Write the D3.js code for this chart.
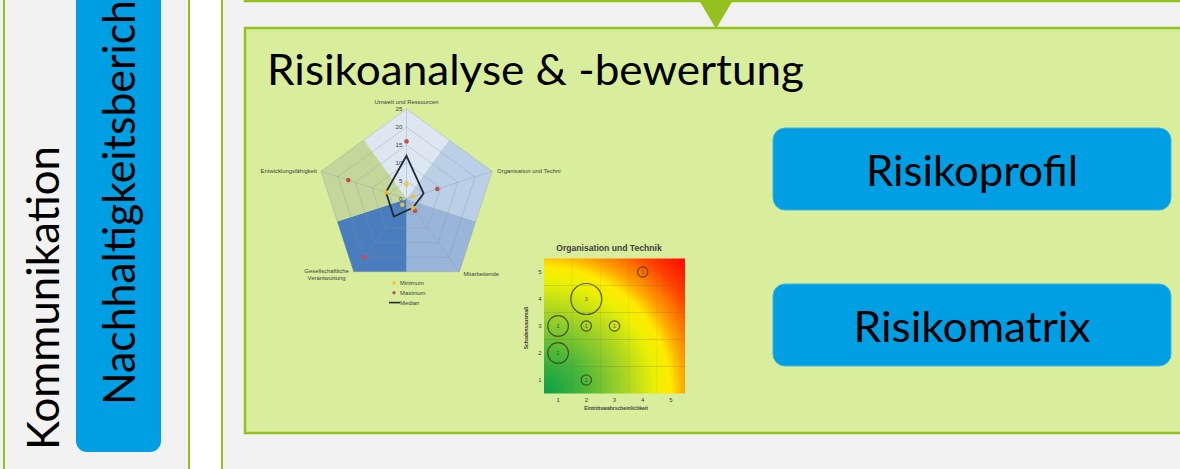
<!DOCTYPE html>
<html lang="de">
<head>
<meta charset="UTF-8" />
<title>Risikoanalyse & -bewertung</title>
<script src="https://d3js.org/d3.v7.min.js"></script>
<style>
  body { margin: 0; background: #f2f2f2; }
  svg { display: block; }
  .big { font-family: Lato, "Open Sans", sans-serif; fill: #000; }
  .small { font-family: "Liberation Sans", Arial, sans-serif; fill: #404040; }
</style>
</head>
<body>
<svg id="chart" width="1180" height="469"></svg>
<script>
  // radar: Risikoprofil
  const axes = ["Umwelt und Ressourcen", "Organisation und Techni", "Mitarbeitende",
                "Gesellschaftliche Verantwortung", "Entwicklungsfähigkeit"];
  const minimum = [4, 2, 3, 2, 6];
  const maximum = [16, 9, 4, 20, 17];
  const median  = [12, 5, 3, 6, 6];
  const radarTicks = [0, 5, 10, 15, 20, 25];
  const legendItems = ["Minimum", "Maximum", "Median"];

  // bubble matrix: Organisation und Technik
  const likelihood = [4, 2, 1, 2, 3, 1, 2];
  const impact     = [5, 4, 3, 3, 3, 2, 1];
  const count      = [1, 3, 2, 1, 1, 2, 1];
  const matrixTicks = [1, 2, 3, 4, 5];

  const green = "#95c11f", blue = "#009fe3", fillGreen = "#d9ee9c";
  const svg = d3.select("#chart");

  // ---- frame / boxes ----
  svg.append("rect").attr("x", 4).attr("y", -20).attr("width", 185).attr("height", 520)
    .attr("fill", "#f2f2f2").attr("stroke", green).attr("stroke-width", 2);
  svg.append("rect").attr("x", 189).attr("y", -20).attr("width", 33).attr("height", 520)
    .attr("fill", "#fff").attr("stroke", green).attr("stroke-width", 2);

  svg.append("rect").attr("x", 76).attr("y", -30).attr("width", 85).attr("height", 482)
    .attr("rx", 11).attr("fill", blue);

  svg.append("text").attr("class", "big")
    .attr("transform", "translate(59,450) rotate(-90)")
    .attr("font-size", 44).attr("textLength", 304).attr("lengthAdjust", "spacingAndGlyphs")
    .text("Kommunikation");
  svg.append("text").attr("class", "big")
    .attr("transform", "translate(135,405) rotate(-90)")
    .attr("font-size", 44).attr("textLength", 420).attr("lengthAdjust", "spacingAndGlyphs")
    .text("Nachhaltigkeitsbericht");

  // box above (only its lower border is visible)
  svg.append("rect").attr("x", 245).attr("y", -60).attr("width", 1000).attr("height", 61)
    .attr("fill", fillGreen).attr("stroke", green).attr("stroke-width", 2.5);

  // main box
  svg.append("rect").attr("x", 245).attr("y", 28).attr("width", 1000).attr("height", 405)
    .attr("fill", fillGreen).attr("stroke", green).attr("stroke-width", 2.5);

  svg.append("path").attr("d", "M699,0 L733,0 L716,29 Z").attr("fill", green);

  svg.append("text").attr("class", "big").attr("x", 267).attr("y", 85)
    .attr("font-size", 42).attr("textLength", 537).attr("lengthAdjust", "spacingAndGlyphs")
    .text("Risikoanalyse & -bewertung");

  // right buttons
  const buttons = [
    {label: "Risikoprofil", y: 128, tl: 212},
    {label: "Risikomatrix", y: 284, tl: 237}
  ];
  buttons.forEach(b => {
    svg.append("rect").attr("x", 773).attr("y", b.y).attr("width", 398).attr("height", 82)
      .attr("rx", 12).attr("fill", blue).attr("stroke", "#3fb2e6").attr("stroke-width", 1);
    svg.append("text").attr("class", "big").attr("x", 972).attr("y", b.y + 58)
      .attr("text-anchor", "middle").attr("font-size", 42)
      .attr("textLength", b.tl).attr("lengthAdjust", "spacingAndGlyphs")
      .text(b.label);
  });

  // ---- radar chart ----
  const cx = 406.5, cy = 199;
  const r = d3.scaleLinear().domain([0, 25]).range([0, 90]);
  const n = axes.length;
  const pt = (i, v) => {
    const a = (i % n) * 2 * Math.PI / n;
    return [cx + r(v) * Math.sin(a), cy - r(v) * Math.cos(a)];
  };
  const mid = (p, q) => [(p[0] + q[0]) / 2, (p[1] + q[1]) / 2];
  const sectorColors = ["#dde7f2", "#bbcfe6", "#99b5d9", "#4a7dbd", "#c3d79b"];

  const radar = svg.append("g");
  axes.forEach((d, i) => {
    const v = pt(i, 25), prev = pt(i + n - 1, 25), next = pt(i + 1, 25);
    radar.append("path")
      .attr("d", d3.line()([[cx, cy], mid(prev, v), v, mid(v, next)]) + "Z")
      .attr("fill", sectorColors[i]);
  });
  radarTicks.filter(t => t > 0).forEach(t => {
    radar.append("path")
      .attr("d", d3.line()(d3.range(n).map(i => pt(i, t))) + "Z")
      .attr("fill", "none").attr("stroke", "#8593a3").attr("stroke-opacity", 0.45)
      .attr("stroke-width", 0.7);
  });
  d3.range(n).forEach(i => {
    radar.append("line").attr("x1", cx).attr("y1", cy)
      .attr("x2", pt(i, 25)[0]).attr("y2", pt(i, 25)[1])
      .attr("stroke", "#8593a3").attr("stroke-opacity", 0.45).attr("stroke-width", 0.7);
  });
  radarTicks.forEach(t => {
    radar.append("text").attr("class", "small").attr("x", cx - 4).attr("y", cy - r(t) + 2)
      .attr("text-anchor", "end").attr("font-size", 6.2).attr("fill", "#595959").text(t);
  });

  // axis labels
  const vt = d3.range(n).map(i => pt(i, 25));
  radar.append("text").attr("class", "small").attr("font-size", 5.9)
    .attr("x", vt[0][0]).attr("y", vt[0][1] - 5).attr("text-anchor", "middle").text(axes[0]);
  radar.append("text").attr("class", "small").attr("font-size", 5.9)
    .attr("x", vt[1][0] + 5).attr("y", vt[1][1] + 2).text(axes[1]);
  radar.append("text").attr("class", "small").attr("font-size", 5.9)
    .attr("x", vt[2][0] + 4).attr("y", vt[2][1] + 4).text(axes[2]);
  const gv = radar.append("text").attr("class", "small").attr("font-size", 5.9)
    .attr("text-anchor", "middle");
  axes[3].split(" ").forEach((w, k) => {
    gv.append("tspan").attr("x", vt[3][0] - 27).attr("y", vt[3][1] + 1 + k * 7.5).text(w);
  });
  radar.append("text").attr("class", "small").attr("font-size", 5.9)
    .attr("x", vt[4][0] - 4).attr("y", vt[4][1] + 2).attr("text-anchor", "end").text(axes[4]);

  // median line
  radar.append("path")
    .attr("d", d3.line()(median.map((v, i) => pt(i, v))) + "Z")
    .attr("fill", "none").attr("stroke", "#1e2a35").attr("stroke-width", 1.8)
    .attr("stroke-linejoin", "miter");
  radar.selectAll(".mx").data(maximum).join("circle")
    .attr("cx", (d, i) => pt(i, d)[0]).attr("cy", (d, i) => pt(i, d)[1])
    .attr("r", 2.3).attr("fill", "#c2504d");
  radar.selectAll(".mn").data(minimum).join("circle")
    .attr("cx", (d, i) => pt(i, d)[0]).attr("cy", (d, i) => pt(i, d)[1])
    .attr("r", 2.3).attr("fill", "#f5c22a").attr("fill-opacity", 0.9);

  // legend
  const lg = radar.append("g").attr("transform", "translate(394,283)");
  legendItems.forEach((d, k) => {
    const y = k * 9.8;
    if (k < 2) {
      lg.append("circle").attr("cx", 0).attr("cy", y).attr("r", 1.7)
        .attr("fill", k === 0 ? "#f5c22a" : "#c2504d");
    } else {
      lg.append("line").attr("x1", -5).attr("x2", 6).attr("y1", y).attr("y2", y)
        .attr("stroke", "#1e2a35").attr("stroke-width", 1.6);
    }
    lg.append("text").attr("class", "small").attr("x", 6).attr("y", y + 2)
      .attr("font-size", 5.9).text(d);
  });

  // ---- risk matrix ----
  const x = d3.scaleLinear().domain([0.5, 5.5]).range([544, 685]);
  const y = d3.scaleLinear().domain([0.5, 5.5]).range([393.5, 258.5]);
  const defs = svg.append("defs");
  const grad = defs.append("radialGradient").attr("id", "heat")
    .attr("gradientUnits", "userSpaceOnUse")
    .attr("cx", x(0.5)).attr("cy", y(0.5)).attr("r", 198);
  [[0, "#0a9f48"], [0.2, "#48b63a"], [0.4, "#a2d226"], [0.56, "#e8f004"], [0.64, "#ffeb00"],
   [0.71, "#ffa600"], [0.85, "#ff4200"], [1, "#ff0000"]].forEach(s => {
    grad.append("stop").attr("offset", s[0]).attr("stop-color", s[1]);
  });
  const m = svg.append("g");
  m.append("rect").attr("x", x(0.5)).attr("y", y(5.5))
    .attr("width", x(5.5) - x(0.5)).attr("height", y(0.5) - y(5.5))
    .attr("fill", "url(#heat)");
  [1.5, 2.5, 3.5, 4.5].forEach(g => {
    m.append("line").attr("x1", x(0.5)).attr("x2", x(5.5)).attr("y1", y(g)).attr("y2", y(g))
      .attr("stroke", "#6b6b3a").attr("stroke-opacity", 0.3).attr("stroke-width", 0.7);
    m.append("line").attr("y1", y(0.5)).attr("y2", y(5.5)).attr("x1", x(g)).attr("x2", x(g))
      .attr("stroke", "#6b6b3a").attr("stroke-opacity", 0.15).attr("stroke-width", 0.7);
  });
  m.selectAll(".xt").data(matrixTicks).join("text").attr("class", "small")
    .attr("x", d => x(d)).attr("y", y(0.5) + 8).attr("text-anchor", "middle")
    .attr("font-size", 6).text(d => d);
  m.selectAll(".yt").data(matrixTicks).join("text").attr("class", "small")
    .attr("x", x(0.5) - 4).attr("y", d => y(d) + 2).attr("text-anchor", "middle")
    .attr("font-size", 6).text(d => d);
  m.append("text").attr("class", "small").attr("x", 609).attr("y", 251)
    .attr("text-anchor", "middle").attr("font-size", 8.6).attr("font-weight", "bold")
    .attr("fill", "#3a3a3a").text("Organisation und Technik");
  m.append("text").attr("class", "small").attr("x", 616).attr("y", 410)
    .attr("text-anchor", "middle").attr("font-size", 5).attr("font-weight", "bold")
    .attr("fill", "#505050").text("Eintrittswahrscheinlichkeit");
  m.append("text").attr("class", "small")
    .attr("transform", "translate(528,328) rotate(-90)")
    .attr("text-anchor", "middle").attr("font-size", 5).attr("font-weight", "bold")
    .attr("fill", "#505050").text("Schadensausmaß");

  const rb = d3.scaleLinear().domain([0, 3]).range([0, 15.5]);
  const bubbles = likelihood.map((d, i) => ({lx: d, im: impact[i], c: count[i]}));
  m.selectAll(".bub").data(bubbles).join("circle")
    .attr("cx", d => x(d.lx)).attr("cy", d => y(d.im)).attr("r", d => rb(d.c))
    .attr("fill", "none").attr("stroke", "#3f3f18").attr("stroke-opacity", 0.85)
    .attr("stroke-width", 1.2);
  m.selectAll(".bl").data(bubbles).join("text").attr("class", "small")
    .attr("x", d => x(d.lx)).attr("y", d => y(d.im) + 1.6).attr("text-anchor", "middle")
    .attr("font-size", 4.6).text(d => d.c);
</script>
</body>
</html>
